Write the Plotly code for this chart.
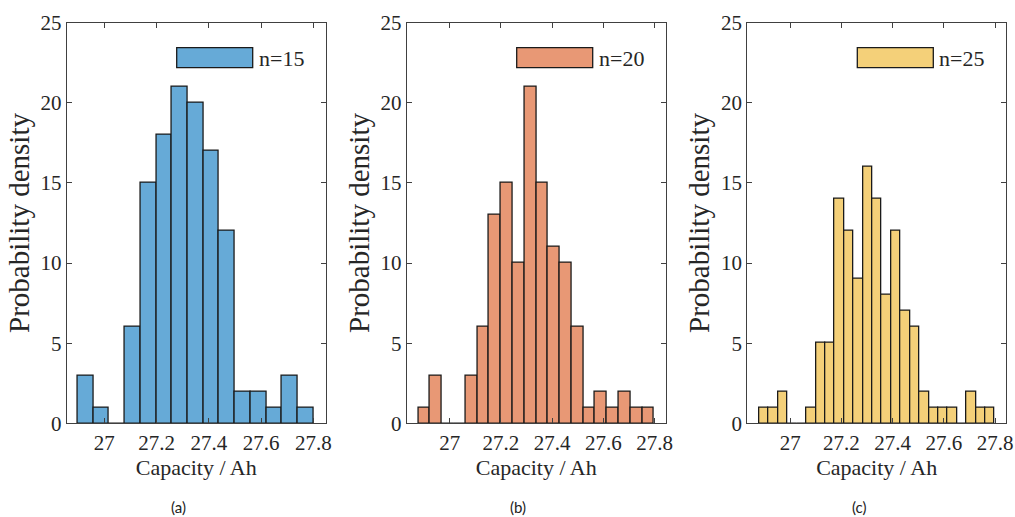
import plotly.graph_objects as go

# ---- data (counts per bin) ----
counts_a = [3, 1, 0, 6, 15, 18, 21, 20, 17, 12, 2, 2, 1, 3, 1]
counts_b = [1, 3, 0, 0, 3, 6, 13, 15, 10, 21, 15, 11, 10, 6, 1, 2, 1, 2, 1, 1]
counts_c = [1, 1, 2, 0, 0, 1, 5, 5, 14, 12, 9, 16, 14, 8, 12, 7, 6, 2, 1, 1, 1, 0, 2, 1, 1]
bin_start = [26.898, 26.877, 26.879]
bin_end = [27.800, 27.798, 27.799]
legend_names = ["n=15", "n=20", "n=25"]
panel_labels = ["(a)", "(b)", "(c)"]
x_ticks = [27, 27.2, 27.4, 27.6, 27.8]
x_tick_text = ["27", "27.2", "27.4", "27.6", "27.8"]
y_ticks = [0, 5, 10, 15, 20, 25]

colors = ["#66AAD7", "#E89875", "#F4D079"]
edge = "#1a1a1a"
axis_col = "#404040"
W, H = 1015, 517
# axes boxes in pixels (left, right)
boxes = [(66.7, 325.7), (406.7, 665.7), (747.3, 1006.0)]
top_px, bot_px = 22.7, 423.3
xranges = [[26.856, 27.847], [26.832, 27.843], [26.832, 27.843]]

fig = go.Figure()
serif = "Liberation Serif, Times New Roman, Times, serif"
txt_col = "#262626"

all_counts = [counts_a, counts_b, counts_c]
for i, counts in enumerate(all_counts):
    n = len(counts)
    w = (bin_end[i] - bin_start[i]) / n
    centers = [bin_start[i] + w * (k + 0.5) for k in range(n)]
    sfx = "" if i == 0 else str(i + 1)
    fig.add_trace(go.Bar(
        x=centers, y=counts, width=w,
        marker=dict(color=colors[i], line=dict(color=edge, width=1.3)),
        xaxis="x" + sfx, yaxis="y" + sfx, showlegend=False,
        hoverinfo="x+y",
    ))
    l, r = boxes[i]
    common = dict(showline=True, linecolor=axis_col, linewidth=1, mirror="ticks",
                  ticks="inside", ticklen=5, tickcolor=axis_col, tickwidth=1,
                  showgrid=False, zeroline=False, automargin=False,
                  tickfont=dict(family=serif, size=21, color=txt_col))
    fig.update_layout(**{
        "xaxis" + sfx: dict(domain=[l / W, r / W], range=xranges[i],
                            tickvals=x_ticks, ticktext=x_tick_text,
                            anchor="y" + sfx,
                            title=dict(text="Capacity / Ah", standoff=6,
                                       font=dict(family=serif, size=22, color=txt_col)),
                            **common),
        "yaxis" + sfx: dict(domain=[1 - bot_px / H, 1 - top_px / H], range=[0, 25],
                            tickvals=y_ticks, anchor="x" + sfx,
                            title=dict(text="Probability density", standoff=2,
                                       font=dict(family=serif, size=29, color=txt_col)),
                            **common),
    })
    # legend patch + text
    pw = r - l
    ph = bot_px - top_px
    fig.add_shape(type="rect", xref="x%s domain" % sfx, yref="y%s domain" % sfx,
                  x0=110 / pw, x1=186 / pw,
                  y0=(bot_px - 67.7) / ph, y1=(bot_px - 47.7) / ph,
                  fillcolor=colors[i], line=dict(color=edge, width=1.3))
    fig.add_annotation(xref="x%s domain" % sfx, yref="y%s domain" % sfx,
                       x=190 / pw, y=(bot_px - 58) / ph, xanchor="left", yanchor="middle",
                       text=legend_names[i], showarrow=False,
                       font=dict(family=serif, size=22, color=txt_col))
    # panel label
    fig.add_annotation(xref="paper", yref="paper",
                       x=((l + r) / 2 - 18) / W, y=1 - 507 / H,
                       xanchor="center", yanchor="middle",
                       text=panel_labels[i], showarrow=False,
                       font=dict(family="Lato", size=15, color="#222222"))

fig.update_layout(template="none", width=W, height=H, margin=dict(l=0, r=0, t=0, b=0),
                  paper_bgcolor="white", plot_bgcolor="white", bargap=0)
fig.write_html("out.html", config={"displayModeBar": False},
               post_script="document.body.style.margin='0';document.body.style.overflow='hidden';")
